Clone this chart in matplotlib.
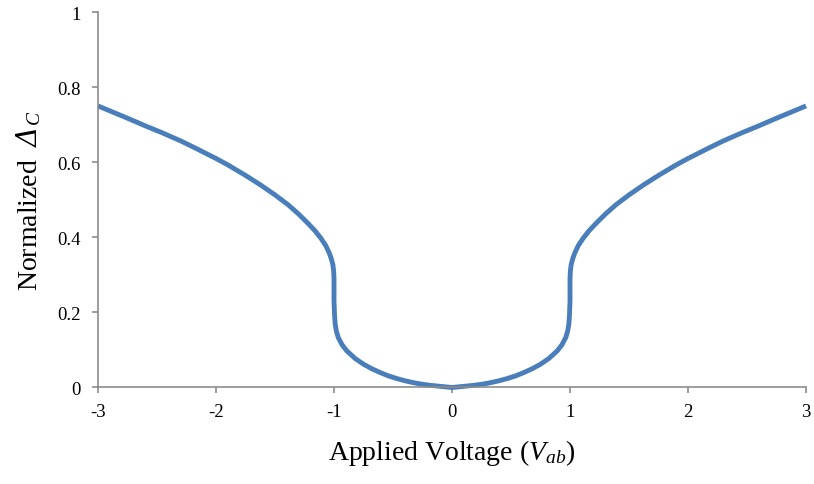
import numpy as np
import matplotlib
matplotlib.use('Agg')
import matplotlib.pyplot as plt

plt.rcParams['font.family'] = ['Liberation Serif', 'DejaVu Serif']
plt.rcParams['mathtext.fontset'] = 'custom'
plt.rcParams['mathtext.rm'] = 'Liberation Serif'
plt.rcParams['mathtext.it'] = 'Liberation Serif:italic'
plt.rcParams['mathtext.sf'] = 'DejaVu Serif:italic'
plt.rcParams['axes.unicode_minus'] = False

# right half of the curve (curve is symmetric about 0)
x_half = [0, 0.1, 0.19, 0.26, 0.33, 0.4, 0.47, 0.54, 0.61, 0.68, 0.75, 0.82, 0.893, 0.93, 0.964, 0.98,
          0.99, 0.995, 1.0, 1.0, 1.003, 1.01, 1.025, 1.04, 1.07, 1.11, 1.16, 1.22, 1.3, 1.39, 1.5,
          1.62, 1.75, 1.9, 2.0, 2.17, 2.3, 2.46, 2.6, 2.74, 2.87, 3.0]
y_half = [0, 0.003, 0.006, 0.009, 0.013, 0.018, 0.024, 0.031, 0.040, 0.050, 0.062, 0.077, 0.098, 0.113, 0.133, 0.150,
          0.169, 0.19, 0.23, 0.29, 0.31, 0.328, 0.345, 0.358, 0.378, 0.397, 0.417, 0.437, 0.462, 0.487, 0.513,
          0.539, 0.565, 0.593, 0.610, 0.637, 0.657, 0.679, 0.697, 0.716, 0.733, 0.75]

x = np.concatenate([-np.array(x_half[::-1]), np.array(x_half[1:])])
y = np.concatenate([np.array(y_half[::-1]), np.array(y_half[1:])])

x_ticks = [-3, -2, -1, 0, 1, 2, 3]
y_ticks = [0, 0.2, 0.4, 0.6, 0.8, 1]
y_ticklabels = ['0', '0.2', '0.4', '0.6', '0.8', '1']

fig = plt.figure(figsize=(8.14, 4.85), dpi=100)
ax = fig.add_axes([0.1204, 0.199, 0.8698, 0.774])
ax.plot(x, y, color='#4A7EBB', lw=3.5, solid_capstyle='butt', solid_joinstyle='round', clip_on=False)

ax.set_xlim(-3, 3)
ax.set_ylim(0, 1)
ax.set_xticks(x_ticks)
ax.set_yticks(y_ticks)
ax.set_yticklabels(y_ticklabels)
for s in ['top', 'right']:
    ax.spines[s].set_visible(False)
for s in ['left', 'bottom']:
    ax.spines[s].set_color('#8C8C8C')
    ax.spines[s].set_linewidth(1.2)
ax.tick_params(axis='y', direction='out', length=4.5, width=1.2, color='#8C8C8C', labelsize=13.5, pad=8)
ax.tick_params(axis='x', direction='out', length=4.5, width=1.2, color='#8C8C8C', labelsize=13.5, pad=7)

ax.set_xlabel(r'Applied Voltage ($V_{ab}$)', fontsize=20, labelpad=12)
ax.set_ylabel(r'Normalized  $\mathsf{Δ}_{\mathit{C}}$', fontsize=20, labelpad=10)

fig.savefig('out.png', dpi=100)
